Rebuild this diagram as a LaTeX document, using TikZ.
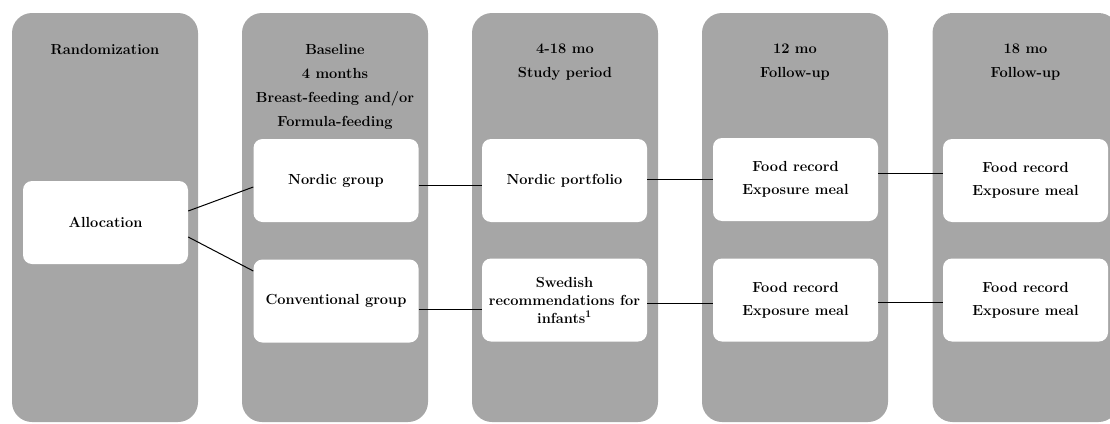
\documentclass[tikz,border=0pt]{standalone}
\definecolor{colgray}{HTML}{A6A6A6}
\begin{document}
\begin{tikzpicture}[x=1pt,y=-1pt,
  col/.style={fill=colgray, draw=none, rounded corners=20pt, minimum width=186pt, minimum height=409pt, inner sep=0pt},
  box/.style={fill=white, draw=none, rounded corners=9pt, minimum width=165pt, minimum height=83pt, inner sep=0pt, align=center, font=\fontsize{14.6}{23}\selectfont\bfseries},
  head/.style={anchor=north, align=center, inner sep=0pt, font=\fontsize{14.6}{24}\selectfont\bfseries},
  link/.style={line width=1pt, black}]
\useasboundingbox (0,0) rectangle (1110,423);
% columns
\node[col] (c1) at (105,217.5) {};
\node[col] (c2) at (335,217.5) {};
\node[col] (c3) at (565,217.5) {};
\node[col] (c4) at (795,217.5) {};
\node[col] (c5) at (1025.5,217.5) {};
% headers
\node[head] (h1) at (105,44) {Randomization};
\node[head] (h2) at (335,44) {Baseline\\4 months\\Breast-feeding and/or\\Formula-feeding};
\node[head] (h3) at (565,44) {4-18 mo\\Study period};
\node[head] (h4) at (795,44) {12 mo\\Follow-up};
\node[head] (h5) at (1025.5,44) {18 mo\\Follow-up};
% boxes
\node[box] (alloc) at (105.5,222.5) {Allocation};
\node[box] (ng) at (336,180.5) {Nordic group};
\node[box] (cg) at (336,301) {Conventional group};
\node[box] (np) at (564.5,180.5) {Nordic portfolio};
\node[box, font=\fontsize{14.6}{18}\selectfont\bfseries] (sw) at (564.5,300) {Swedish\\recommendations for\\infants\textsuperscript{1}};
\node[box] (f12a) at (795.5,179.5) {Food record\\Exposure meal};
\node[box] (f12b) at (795.5,300) {Food record\\Exposure meal};
\node[box] (f18a) at (1025.5,180.5) {Food record\\Exposure meal};
\node[box] (f18b) at (1025.5,300) {Food record\\Exposure meal};
% connectors
\draw[link] ([yshift=11.5pt]alloc.east) -- ([yshift=-6.5pt]ng.west);
\draw[link] ([yshift=-14.5pt]alloc.east) -- ([yshift=30pt]cg.west);
\draw[link] ([yshift=-4.5pt]ng.east) -- ([yshift=-4.5pt]np.west);
\draw[link] ([yshift=1.5pt]np.east) -- ([yshift=0.5pt]f12a.west);
\draw[link] ([yshift=6.5pt]f12a.east) -- ([yshift=7.5pt]f18a.west);
\draw[link] ([yshift=-8pt]cg.east) -- ([yshift=-9pt]sw.west);
\draw[link] ([yshift=-3pt]sw.east) -- ([yshift=-3pt]f12b.west);
\draw[link] ([yshift=-2pt]f12b.east) -- ([yshift=-2pt]f18b.west);
\end{tikzpicture}
\end{document}
